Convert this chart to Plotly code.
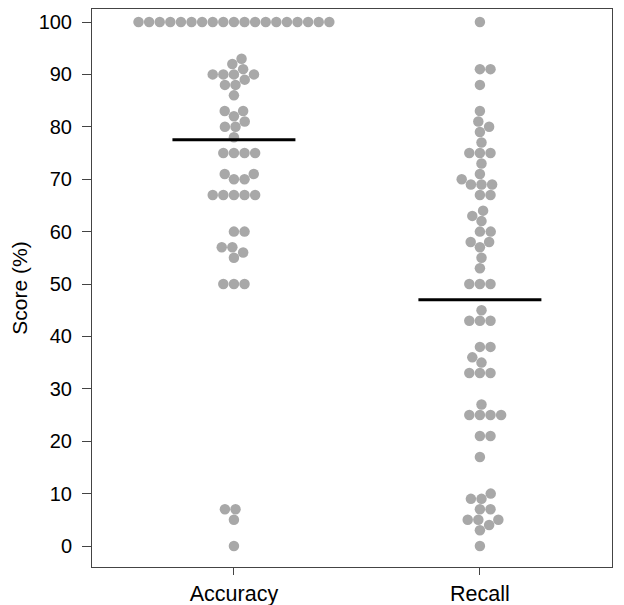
import numpy as np
import plotly.graph_objects as go

categories = ["Accuracy", "Recall"]

accuracy = [100] * 19 + [93, 92, 91, 90, 90, 90, 90, 89, 88, 88, 86, 83, 83, 82, 81,
                         80, 80, 78, 75, 75, 75, 75, 71, 71, 70, 70, 67, 67, 67, 67, 67,
                         60, 60, 57, 57, 56, 55, 50, 50, 50, 7, 7, 5, 0]
recall = [100, 91, 91, 88, 83, 81, 80, 79, 77, 75, 75, 75, 73, 71, 70, 69, 69, 69,
          67, 67, 64, 63, 62, 60, 60, 58, 58, 57, 55, 53, 50, 50, 50, 45, 43, 43, 43,
          38, 38, 36, 35, 33, 33, 33, 27, 25, 25, 25, 25, 21, 21, 17, 10, 9, 9, 7, 7,
          5, 5, 5, 4, 3, 0]

series = [accuracy, recall]

# the page puts the plot 8px in from the top-left corner, so size it to fit
W, H = 616, 597
ML, MR, MT, MB = 84, 12, 1, 38
XR = [-0.577, 1.537]
PY = 5.24  # px per score unit
YR = [-(H - MB - 538) / PY, 100 + (14 - MT) / PY]
px_x = (W - ML - MR) / (XR[1] - XR[0])
px_y = (H - MT - MB) / (YR[1] - YR[0])
DOT = 10.6


def swarm(values):
    # simple beeswarm: each point goes to the nearest free spot to the centre
    order = np.argsort(values, kind="stable")
    placed = []
    offs = np.zeros(len(values))
    for i in order:
        y = values[i] * px_y
        cands = [0.0]
        near = [(px, py) for px, py in placed if abs(py - y) < DOT]
        for px, py in near:
            dx = np.sqrt(DOT ** 2 - (py - y) ** 2)
            cands += [px + dx, px - dx]
        cands.sort(key=lambda c: (round(abs(c), 6), -c))
        for c in cands:
            if all((c - px) ** 2 + (y - py) ** 2 >= DOT ** 2 - 1e-6 for px, py in near):
                offs[i] = c
                placed.append((c, y))
                break
    return offs / px_x


fig = go.Figure()

for k, vals in enumerate(series):
    vals = np.array(vals, dtype=float)
    fig.add_trace(go.Scatter(
        x=k + swarm(vals), y=vals, mode="markers",
        marker=dict(size=10.5, color="#a8a8a8", line=dict(width=0)),
        name=categories[k], showlegend=False, hoverinfo="y"))
    m = vals.mean()
    fig.add_trace(go.Scatter(
        x=[k - 0.25, k + 0.25], y=[m, m], mode="lines",
        line=dict(color="black", width=3), showlegend=False, hoverinfo="skip"))

axis_style = dict(showline=True, mirror=True, linecolor="#444444", linewidth=1,
                  showgrid=False, zeroline=False, ticks="outside",
                  tickcolor="#444444")

fig.update_layout(
    width=W, height=H,
    margin=dict(l=ML, r=MR, t=MT, b=MB),
    plot_bgcolor="white", paper_bgcolor="white",
    font=dict(family="Liberation Sans, Arial", color="black"),
    xaxis=dict(range=XR, tickvals=[0, 1], ticktext=categories, ticklen=7,
               tickfont=dict(size=21.5, color="black"),
               automargin=False, **axis_style),
    yaxis=dict(range=YR, tickvals=list(range(0, 101, 10)), ticklen=9,
               tickfont=dict(size=20, color="black"),
               title=dict(text="Score (%)", font=dict(size=21), standoff=10),
               ticklabelstandoff=6, automargin=False, **axis_style),
)

fig.write_html("out.html")
